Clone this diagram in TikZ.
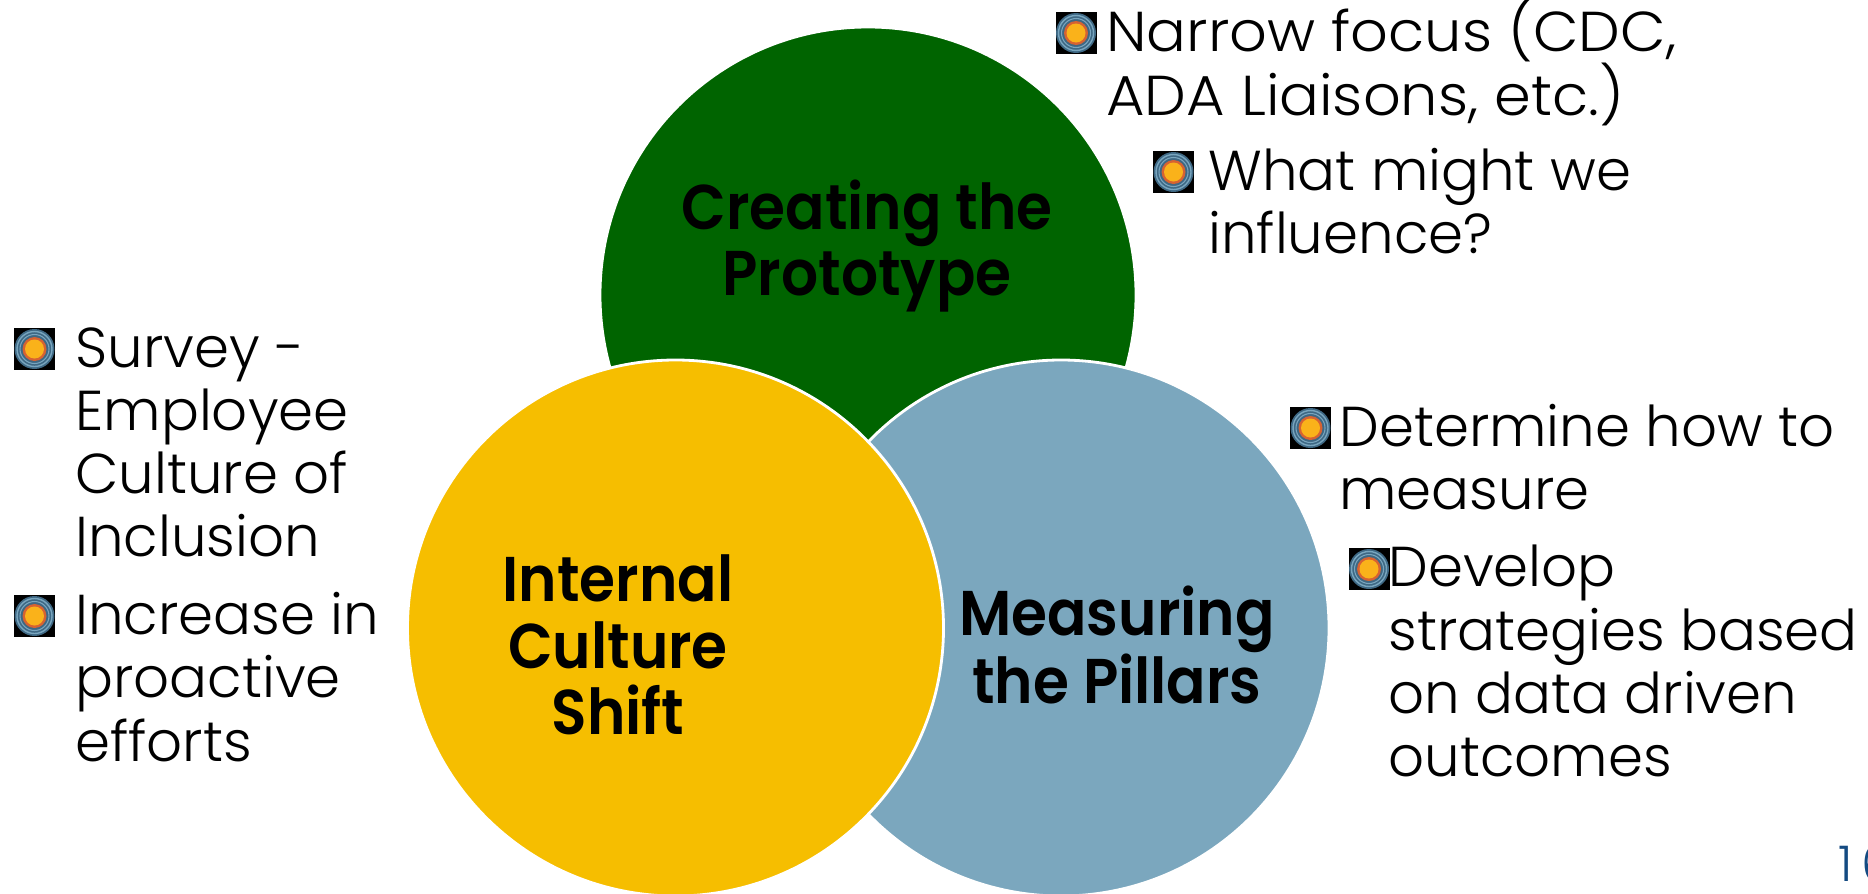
\documentclass[tikz,border=0pt]{standalone}
\usepackage{fontspec}
\setmainfont{Poppins}
\newfontfamily\lightfont{Poppins}[UprightFont=* Light]
\newfontfamily\pillarfont{Poppins}[UprightFont=* SemiBold]
\usepackage{tikz}
\usetikzlibrary{positioning}

\definecolor{pillarGreen}{RGB}{0,100,0}
\definecolor{pillarGold}{RGB}{246,190,0}
\definecolor{pillarBlue}{RGB}{123,167,190}
\definecolor{orbRim}{RGB}{62,104,132}
\definecolor{orbRing}{RGB}{120,165,190}
\definecolor{orbRed}{RGB}{214,98,50}
\definecolor{orbCore}{RGB}{250,178,26}
\definecolor{pageBlue}{RGB}{20,75,130}

\tikzset{
  pillar/.style={circle, draw=white, line width=1.6pt, minimum size=536*0.02cm, inner sep=0pt},
  pillarText/.style={inner sep=0pt, align=center, xscale=0.92, transform shape, font=\fontsize{36}{38}\selectfont\pillarfont},
  listText/.style={inner sep=0pt, anchor=north west, align=left, font=\fontsize{32}{36}\selectfont\lightfont},
  orb/.pic={
    \fill[black] (-20.5,-21) rectangle (20.5,21);
    \fill[orbRim] (0,0) circle (20);
    \draw[orbRing, line width=0.8pt] (0,0) circle (17.5);
    \draw[orbRing, line width=0.6pt] (0,0) circle (14.5);
    \fill[orbRed] (0,0) circle (12);
    \fill[orbCore] (0,0) circle (9.5);
  }
}

\begin{document}
\begin{tikzpicture}[x=0.02cm, y=-0.02cm]
  \useasboundingbox (0,0) rectangle (1868,893);

  % The three pillars
  \node[pillar, fill=pillarGreen] (create) at (868,295) {};
  \node[pillar, fill=pillarBlue] (measure) at (1061,628) {};
  \node[pillar, fill=pillarGold] (culture) at (675.5,628) {};

  % Pillar names
  \node[pillarText] (createText) at (867,246) {Creating the\\Prototype};
  \node[pillarText] (cultureText) at (618,645) {Internal\\Culture\\Shift};
  \node[pillarText] (measureText) at (1117,645) {Measuring\\the Pillars};

  % Top list
  \pic (orbNarrow) at (1076,33) {orb};
  \node[listText, xscale=1.05, transform shape] (narrow) at (1106,-1) {Narrow focus (CDC,\\ADA Liaisons, etc.)};
  \pic (orbWhat) at (1173.5,172) {orb};
  \node[listText] (what) at (1208,148) {What might we\\influence?};

  % Left list
  \pic (orbSurvey) at (34.5,349) {orb};
  \node[listText] (survey) at (75,327) {Survey -\\Employee\\Culture of\\Inclusion};
  \pic (orbIncrease) at (34.5,616) {orb};
  \node[listText] (increase) at (75,592) {Increase in\\proactive\\efforts};

  % Right list
  \pic (orbDetermine) at (1310.5,428) {orb};
  \node[listText] (determine) at (1339,404) {Determine how to\\measure};
  \pic (orbDevelop) at (1369,569) {orb};
  \node[listText] (develop) at (1388,545) {Develop\\strategies based\\on data driven\\outcomes};

  % Page number, cut by the edge
  \node[inner sep=0pt, anchor=base west, text=pageBlue, font=\fontsize{28}{30}\selectfont\lightfont] (pageNo) at (1838,881) {1\kern5pt 6};
\end{tikzpicture}
\end{document}
